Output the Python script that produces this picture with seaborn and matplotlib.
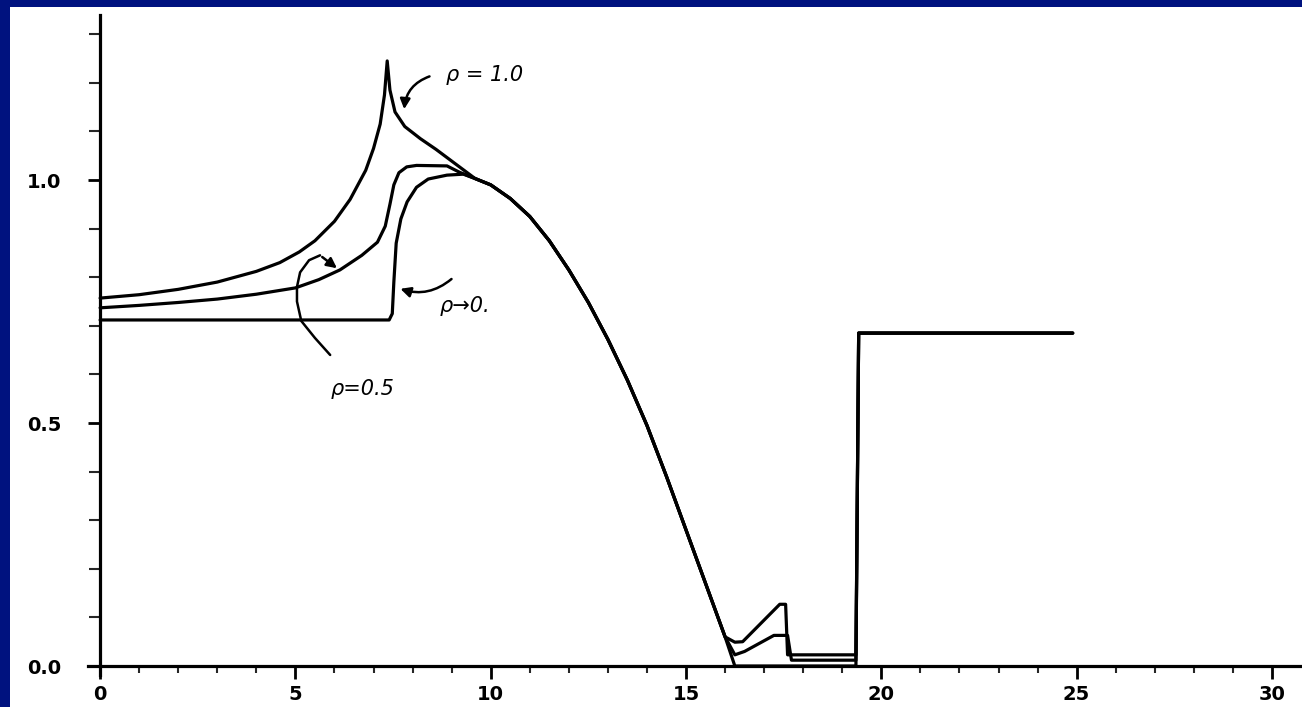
import numpy as np
import pandas as pd
import matplotlib
matplotlib.use('Agg')
import matplotlib.pyplot as plt
from matplotlib.patches import Rectangle
import seaborn as sns

# values
x_rho10 = [0.0, 1.0, 2.0, 3.0, 4.0, 4.6, 5.1, 5.5, 6.0, 6.4, 6.8, 7.0, 7.17, 7.28, 7.35,
           7.42, 7.55, 7.8, 8.2, 8.6, 9.2]
y_rho10 = [0.757, 0.764, 0.775, 0.79, 0.812, 0.83, 0.852, 0.875, 0.915, 0.96, 1.02, 1.065, 1.115, 1.175, 1.245,
           1.185, 1.14, 1.11, 1.085, 1.063, 1.027]

x_rho05 = [0.0, 1.0, 2.0, 3.0, 4.0, 5.0, 5.6, 6.14, 6.7, 7.1, 7.3, 7.42, 7.52, 7.65, 7.85, 8.1, 8.88, 9.2]
y_rho05 = [0.737, 0.742, 0.748, 0.755, 0.765, 0.778, 0.795, 0.815, 0.845, 0.872, 0.905, 0.95, 0.99, 1.015, 1.027, 1.03, 1.029, 1.016]

x_rho0 = [0.0, 7.4, 7.48, 7.52, 7.58, 7.7, 7.86, 8.1, 8.4, 8.88, 9.3]
y_rho0 = [0.712, 0.712, 0.725, 0.79, 0.87, 0.92, 0.955, 0.985, 1.002, 1.01, 1.012]

# shared decay after the curves merge
x_common = [9.6, 10.0, 10.5, 11.0, 11.5, 12.0, 12.5, 13.0, 13.5, 14.0, 14.5, 15.0, 15.5, 16.0]
y_common = [1.003, 0.99, 0.962, 0.925, 0.875, 0.815, 0.748, 0.672, 0.588, 0.495, 0.39, 0.28, 0.17, 0.06]

# tails near zero, then the step up and plateau
x_tail10 = [16.25, 16.45, 17.4, 17.55, 17.6, 19.35, 19.42, 24.9]
y_tail10 = [0.049, 0.05, 0.127, 0.127, 0.023, 0.023, 0.685, 0.685]
x_tail05 = [16.25, 16.5, 17.25, 17.6, 17.7, 19.35, 19.42, 24.9]
y_tail05 = [0.023, 0.03, 0.063, 0.063, 0.012, 0.012, 0.685, 0.685]
x_tail0 = [16.25, 19.35, 19.42, 24.9]
y_tail0 = [0.0, 0.0, 0.685, 0.685]

curve_names = ['rho=1.0', 'rho=0.5', 'rho->0']

xticks = [0, 5, 10, 15, 20, 25, 30]
yticks = [0.0, 0.5, 1.0]
ytick_labels = ['0.0', '0.5', '1.0']

# build long table
parts = []
for name, xs, ys, xt, yt in zip(curve_names,
                                [x_rho10, x_rho05, x_rho0],
                                [y_rho10, y_rho05, y_rho0],
                                [x_tail10, x_tail05, x_tail0],
                                [y_tail10, y_tail05, y_tail0]):
    xx = xs + x_common + xt
    yy = ys + y_common + yt
    parts.append(pd.DataFrame({'x': xx, 'y': yy, 'curve': name, 'order': range(len(xx))}))
df = pd.concat(parts, ignore_index=True)

sns.set_theme(style='white')
plt.rcParams['font.family'] = ['DejaVu Sans']
plt.rcParams['text.color'] = 'black'

W, H = 1302, 707
fig = plt.figure(figsize=(W / 100, H / 100), dpi=100, facecolor='#00127f')
fig.patches.append(Rectangle((10 / W, 0), 1, 700 / H, transform=fig.transFigure,
                             facecolor='white', edgecolor='none', zorder=-10))
ax = fig.add_axes([88 / W, 32 / H, 1214 / W, 660 / H])
ax.set_facecolor('none')

sns.lineplot(data=df, x='x', y='y', units='curve', estimator=None, sort=False,
             color='black', lw=2.3, ax=ax, legend=False)

ax.set_xlim(-0.31, 30.77)
ax.set_ylim(-0.0185, 1.3395)
ax.set_xlabel('')
ax.set_ylabel('')

for s in ['top', 'right']:
    ax.spines[s].set_visible(False)
ax.spines['left'].set_position(('data', 0))
ax.spines['bottom'].set_position(('data', 0))
for s in ['left', 'bottom']:
    ax.spines[s].set_color('black')
    ax.spines[s].set_linewidth(2.3)

ax.set_xticks(xticks)
ax.set_xticklabels([str(t) for t in xticks])
ax.set_xticks(np.arange(1, 31), minor=True)
ax.set_yticks(yticks)
ax.set_yticklabels(ytick_labels)
ax.set_yticks(np.arange(1, 14) / 10, minor=True)
ax.tick_params(axis='x', which='major', direction='out', length=9, width=2, pad=5,
               labelsize=14, colors='black')
ax.tick_params(axis='x', which='minor', direction='out', length=5, width=1.5)
ax.tick_params(axis='y', which='major', direction='out', length=9, width=2, pad=19,
               labelsize=14, colors='black')
ax.tick_params(axis='y', which='minor', direction='out', length=8, width=1.5)
for lab in ax.get_xticklabels() + ax.get_yticklabels():
    lab.set_fontweight('bold')
ax.xaxis.set_ticks_position('bottom')
ax.yaxis.set_ticks_position('left')

# hand-written labels and arrows
arrow = dict(arrowstyle='-|>', color='black', lw=1.8, mutation_scale=15)
ax.text(8.85, 1.216, 'ρ = 1.0', fontsize=15, style='italic', color='black', va='center', ha='left')
ax.annotate('', xy=(7.78, 1.14), xytext=(8.5, 1.215),
            arrowprops=dict(connectionstyle='arc3,rad=0.35', **arrow))

ax.text(8.7, 0.74, 'ρ→0.', fontsize=15, style='italic', color='black', va='center', ha='left')
ax.annotate('', xy=(7.62, 0.778), xytext=(9.05, 0.80),
            arrowprops=dict(connectionstyle='arc3,rad=-0.3', **arrow))

ax.text(5.9, 0.57, 'ρ=0.5', fontsize=15, style='italic', color='black', va='center', ha='left')
curl_x = [5.89, 5.5, 5.15, 5.04, 5.04, 5.12, 5.35, 5.63]
curl_y = [0.64, 0.675, 0.71, 0.75, 0.78, 0.81, 0.835, 0.845]
ax.plot(curl_x, curl_y, color='black', lw=1.8)
ax.annotate('', xy=(6.12, 0.815), xytext=(5.63, 0.845), arrowprops=dict(**arrow))

fig.savefig('out.png', dpi=100, facecolor=fig.get_facecolor())
